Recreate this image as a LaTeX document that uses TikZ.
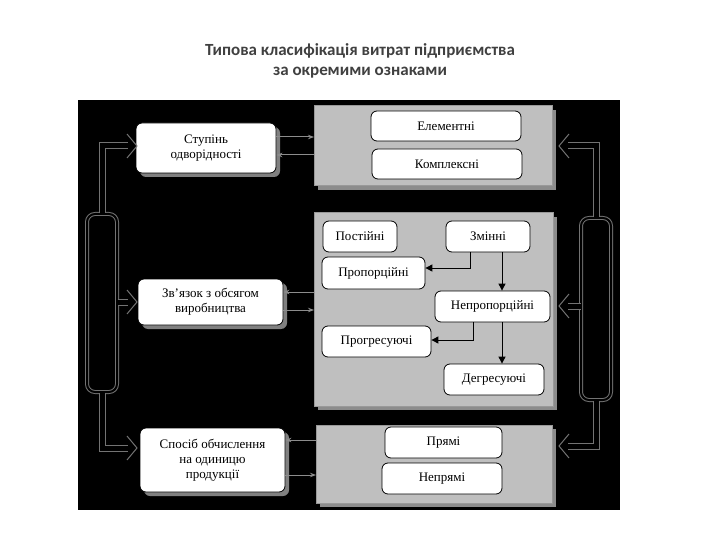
\documentclass[tikz,border=0pt]{standalone}
\usepackage{fontspec}
\setmainfont{Liberation Serif}
\newfontfamily\titlefont{Carlito}
\usetikzlibrary{arrows.meta}
\begin{document}
\begin{tikzpicture}[x=1pt,y=-1pt,
  bx/.style={draw=black,fill=white,rounded corners=6pt,line width=0.8pt,font=\fontsize{13}{15}\selectfont,align=center,inner sep=1pt},
  panel/.style={fill=black!25,draw=black!40,line width=1pt},
  shadow/.style={fill=black!45},
  ar/.style={-{Triangle[length=7pt,width=7pt]},line width=1pt},
  sm/.style={-{Stealth[length=6pt]},draw=black!45,line width=1pt},
  dbl/.style={draw=black!55,double=black,double distance=5pt,line width=1pt},
  chev/.style={draw=black!55,line width=1pt}]
\useasboundingbox (0,0) rectangle (720,540);
\fill[white] (0,0) rectangle (720,540);
\node[font=\titlefont\bfseries\fontsize{17}{20}\selectfont,text=black!75,align=center] (title) at (360,61) {Типова класифікація витрат підприємства\\за окремими ознаками};
\fill[black] (78,100) rectangle (620,510);
% panels
\fill[shadow] (318,110) rectangle (556,190);
\filldraw[panel] (314,106) rectangle (552,186);
\fill[shadow] (318,217) rectangle (557,410);
\filldraw[panel] (314,213) rectangle (553,406);
\fill[shadow] (320,429) rectangle (556,507);
\filldraw[panel] (316,425) rectangle (552,503);
% left boxes
\newcommand\lbox[6]{\fill[black!50,rounded corners=6pt] (#2+4,#3+4) rectangle (#4+4,#5+4);
 \node[bx,minimum width=#4-#2,minimum height=#5-#3] (#1) at ({(#2+#4)/2},{(#3+#5)/2}) {#6};}
\lbox{st}{136}{123}{276}{173}{Ступінь\\одворідності}
\lbox{zv}{138}{279}{283}{325}{Зв’язок з обсягом\\виробництва}
\lbox{sp}{140}{428}{285}{492}{Спосіб обчислення\\на одиницю\\продукції}
\newcommand\ibox[6]{\node[bx,minimum width=#4-#2,minimum height=#5-#3] (#1) at ({(#2+#4)/2},{(#3+#5)/2}) {#6};}
\ibox{el}{371}{111}{521}{141}{Елементні}
\ibox{ko}{372}{149}{522}{179}{Комплексні}
\ibox{po}{323}{221}{397}{252}{Постійні}
\ibox{zm}{446}{221}{530}{252}{Змінні}
\ibox{pr}{322}{257}{425}{289}{Пропорційні}
\ibox{ne}{435}{291}{550}{322}{Непропорційні}
\ibox{pg}{322}{326}{431}{357}{Прогресуючі}
\ibox{de}{444}{364}{544}{395}{Дегресуючі}
\ibox{pm}{385}{427}{502}{458}{Прямі}
\ibox{np}{382}{463}{502}{494}{Непрямі}
% internal arrows
\draw[ar] (zm.south -| 470,0) |- (pr.east |- 0,268);
\draw[ar] (zm.south -| 502,0) -- (ne.north -| 502,0);
\draw[ar] (ne.south -| 473,0) |- (pg.east |- 0,340);
\draw[ar] (ne.south -| 502,0) -- (de.north -| 502,0);
% small gray arrows
\coordinate (p1) at (314,137); \coordinate (p2) at (314,155);
\draw[sm] (st.east |- p1) -- (p1); \draw[sm] (p2) -- (st.east |- p2);
\coordinate (p3) at (314,292); \coordinate (p4) at (314,310);
\draw[sm] (p3) -- (zv.east |- p3); \draw[sm] (zv.east |- p4) -- (p4);
\coordinate (p5) at (316,440); \coordinate (p6) at (316,475);
\draw[sm] (p5) -- (sp.east |- p5); \draw[sm] (sp.east |- p6) -- (p6);
% brackets
\node[draw=black!55,double=black,double distance=2pt,line width=1pt,rounded corners=8pt,minimum width=30pt,minimum height=178pt,fill=black] (lb) at (102,303) {};
\node[draw=black!55,double=black,double distance=2pt,line width=1pt,rounded corners=8pt,minimum width=30pt,minimum height=182pt,fill=black] (rb) at (596,309) {};
% double connectors left
\coordinate (a1) at (128,146); \coordinate (a2) at (128,448); \coordinate (a3) at (128,302);
\draw[dbl] (lb.north) |- (a1); \draw[dbl] (lb.south) |- (a2); \draw[dbl] (lb.east |- a3) -- (a3);
\coordinate (b1) at (568,146); \coordinate (b2) at (568,446); \coordinate (b3) at (568,306);
\draw[dbl] (rb.north) |- (b1); \draw[dbl] (rb.south) |- (b2); \draw[dbl] (rb.west |- b3) -- (b3);
\foreach \c in {a1,a2,a3}{\draw[chev] ([shift={(-1,-12)}]\c) -- ([shift={(9,0)}]\c) -- ([shift={(-1,12)}]\c);}
\foreach \c in {b1,b2,b3}{\draw[chev] ([shift={(1,-12)}]\c) -- ([shift={(-9,0)}]\c) -- ([shift={(1,12)}]\c);}
\end{tikzpicture}
\end{document}
